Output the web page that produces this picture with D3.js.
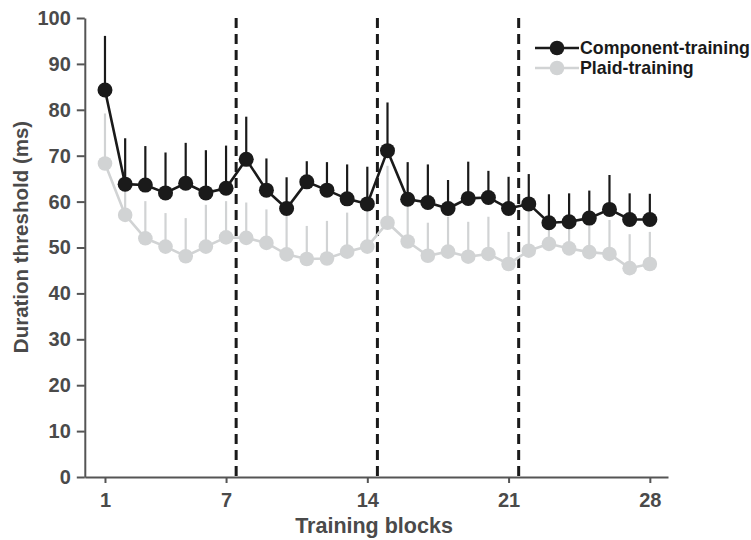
<!DOCTYPE html>
<html><head><meta charset="utf-8">
<script src="https://cdn.jsdelivr.net/npm/d3@7"></script>
<style>body{margin:0;background:#fff}</style>
</head><body><svg id="c" width="751" height="540"></svg>
<script>
const blocks = d3.range(1, 29);
const componentMean = [84.3,63.8,63.6,61.9,64.0,61.9,62.9,69.2,62.5,58.5,64.3,62.5,60.6,59.5,71.1,60.5,59.8,58.5,60.7,60.9,58.5,59.5,55.4,55.6,56.4,58.3,56.1,56.1];
const componentErr  = [11.8,10.0,8.5,8.8,8.8,9.3,9.3,9.3,6.9,6.8,4.5,6.1,7.5,8.1,10.5,8.1,8.3,6.2,8.0,5.8,6.9,6.5,6.2,6.2,6.0,7.5,5.7,5.6];
const plaidMean = [68.3,57.1,52.0,50.2,48.1,50.2,52.2,52.1,51.0,48.5,47.5,47.6,49.1,50.2,55.4,51.3,48.2,49.1,48.0,48.6,46.4,49.3,50.8,49.8,49.0,48.6,45.5,46.4];
const plaidErr  = [10.9,7.0,8.1,7.3,8.3,9.1,7.9,7.7,7.3,8.4,7.2,8.2,8.5,9.1,12.4,8.7,7.2,7.6,7.6,8.1,7.0,9.6,6.5,7.0,7.0,7.4,7.4,7.0];
const yTicks = [0,10,20,30,40,50,60,70,80,90,100];
const xTicks = [1,7,14,21,28];
const dividers = [7.5,14.5,21.5];
const seriesNames = ["Component-training","Plaid-training"];

const svg = d3.select("#c");
const x = d3.scaleLinear().domain([0, 28.9]).range([84.8, 668]);
const y = d3.scaleLinear().domain([0, 100]).range([477, 18]);
const axisCol = "#555", txtCol = "#4a4a4a";
const font = "'Liberation Sans', Arial, sans-serif";

// dashed dividers
svg.selectAll("line.div").data(dividers).join("line")
  .attr("x1", d => x(d)).attr("x2", d => x(d))
  .attr("y1", y(100)).attr("y2", y(0))
  .attr("stroke", "#1a1a1a").attr("stroke-width", 3).attr("stroke-dasharray", "10,6");

// axes
const yAxis = svg.append("g").attr("transform", `translate(${x(0)},0)`)
  .call(d3.axisLeft(y).tickValues(yTicks).tickSize(8).tickPadding(6).tickSizeOuter(0));
const xAxis = svg.append("g").attr("transform", `translate(0,${y(0)})`)
  .call(d3.axisBottom(x).tickValues(xTicks).tickSize(6).tickPadding(10).tickSizeOuter(0));
[yAxis, xAxis].forEach(g => {
  g.select(".domain").attr("stroke", axisCol).attr("stroke-width", 2);
  g.selectAll(".tick line").attr("stroke", axisCol).attr("stroke-width", 2);
  g.selectAll(".tick text").attr("fill", txtCol).attr("font-family", font)
    .attr("font-weight", "bold").attr("font-size", 20);
});

function drawSeries(mean, err, color, r) {
  const g = svg.append("g");
  g.selectAll("line.err").data(blocks).join("line")
    .attr("x1", d => x(d)).attr("x2", d => x(d))
    .attr("y1", (d,i) => y(mean[i])).attr("y2", (d,i) => y(mean[i] + err[i]))
    .attr("stroke", color).attr("stroke-width", 2.2);
  g.append("path").datum(blocks)
    .attr("d", d3.line().x(d => x(d)).y((d,i) => y(mean[i])))
    .attr("fill", "none").attr("stroke", color).attr("stroke-width", 2.6);
  g.selectAll("circle").data(blocks).join("circle")
    .attr("cx", d => x(d)).attr("cy", (d,i) => y(mean[i])).attr("r", r)
    .attr("fill", color);
}
drawSeries(plaidMean, plaidErr, "#d1d3d4", 7.3);
drawSeries(componentMean, componentErr, "#1a1a1a", 7.5);

// titles
svg.append("text").attr("x", 374).attr("y", 533).attr("text-anchor", "middle")
  .attr("font-family", font).attr("font-weight", "bold").attr("font-size", 21.5)
  .attr("fill", txtCol).text("Training blocks");
svg.append("text").attr("transform", `translate(28,237) rotate(-90)`)
  .attr("text-anchor", "middle")
  .attr("font-family", font).attr("font-weight", "bold").attr("font-size", 20.5)
  .attr("fill", txtCol).text("Duration threshold (ms)");

// legend
const legColors = ["#1a1a1a", "#d1d3d4"];
const leg = svg.append("g");
seriesNames.forEach((n, i) => {
  const ly = 48 + i * 20;
  leg.append("line").attr("x1", 535).attr("x2", 579).attr("y1", ly).attr("y2", ly)
    .attr("stroke", legColors[i]).attr("stroke-width", 2.6);
  leg.append("circle").attr("cx", 557).attr("cy", ly).attr("r", 7.3).attr("fill", legColors[i]);
  leg.append("text").attr("x", 580).attr("y", ly + 6)
    .attr("font-family", font).attr("font-weight", "bold").attr("font-size", 17.8)
    .attr("fill", "#1a1a1a").text(n);
});
</script></body></html>
